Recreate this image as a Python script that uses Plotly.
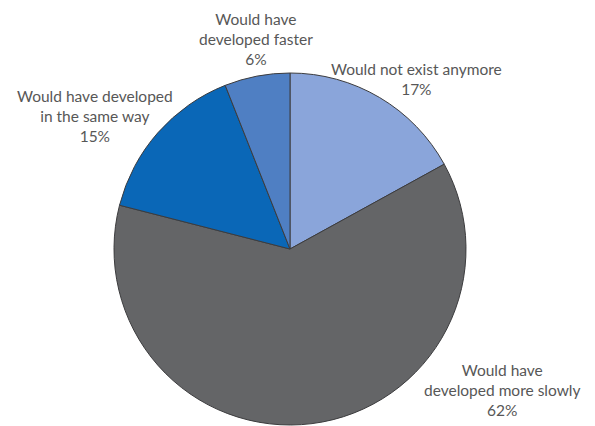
import plotly.graph_objects as go

# Survey answers, clockwise from 12 o'clock
labels = [
    "Would not exist anymore",
    "Would have<br>developed more slowly",
    "Would have developed<br>in the same way",
    "Would have<br>developed faster",
]
values = [17, 62, 15, 6]
colors = ["#8aa5da", "#646567", "#0a67b7", "#4f7fc3"]

W, H = 595, 426
# label anchor points (pixel centres of each text block)
label_pos = [(416, 79), (502, 390), (95, 116), (256, 39)]

fig = go.Figure(
    go.Pie(
        labels=[l.replace("<br>", " ") for l in labels],
        values=values,
        sort=False,
        direction="clockwise",
        rotation=0,
        marker=dict(colors=colors, line=dict(color="#3c3c3e", width=1)),
        textinfo="none",
        hoverinfo="label+percent",
        domain=dict(x=[114 / W, 466 / W], y=[1 / H, 1 - 73 / H]),
        showlegend=False,
    )
)

for lab, val, (px, py) in zip(labels, values, label_pos):
    fig.add_annotation(
        x=px / W,
        y=1 - py / H,
        xref="paper",
        yref="paper",
        text=f"{lab}<br>{val}%",
        showarrow=False,
        xanchor="center",
        yanchor="middle",
        align="center",
        font=dict(family="Lato", size=15.5, color="#575757"),
    )

fig.update_layout(
    width=W,
    height=H,
    margin=dict(l=0, r=0, t=0, b=0),
    paper_bgcolor="white",
    plot_bgcolor="white",
)

fig.write_html("out.html")
